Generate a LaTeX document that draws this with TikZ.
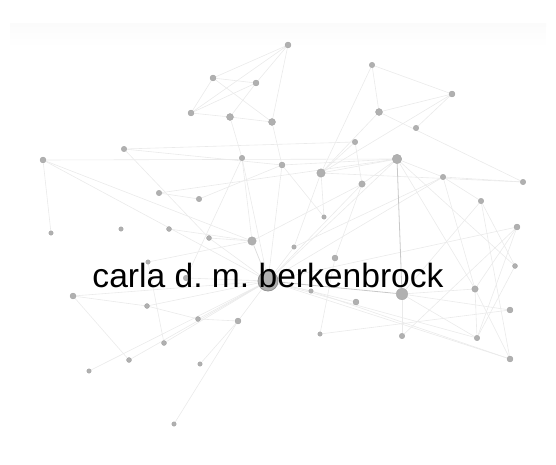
\documentclass[tikz,border=0pt]{standalone}
\usepackage{fontspec}
\setmainfont{Liberation Sans}
\usetikzlibrary{backgrounds}
\definecolor{edgec}{HTML}{EAEAEA}
\definecolor{edgem}{HTML}{DCDCDC}
\definecolor{edged}{HTML}{C8C8C8}
\definecolor{dotc}{HTML}{B0B0B0}
\definecolor{dotb}{HTML}{A0A0A0}
\tikzset{
  dot/.style={circle, fill=dotc, draw=dotb, line width=0.3pt, inner sep=0pt, minimum size=#1},
  dot/.default=5pt,
  edge/.style={draw=edgec, line width=0.6pt},
  edgeM/.style={draw=edgem, line width=0.7pt},
  edgeD/.style={draw=edged, line width=0.8pt},
  lbl/.style={font=\fontsize{33.6}{36}\selectfont\frenchspacing, text=black, inner sep=0pt, anchor=base}
}
\begin{document}
\begin{tikzpicture}[x=1pt,y=-1pt]
\useasboundingbox (0,0) rectangle (556,465);
% nodes
\node[dot=6pt] (xa) at (288,45) {};
\node[dot=6pt] (xb) at (213,78) {};
\node[dot=6pt] (xc) at (256,83) {};
\node[dot=6pt] (xd) at (191,113) {};
\node[dot=7pt] (xe) at (230,117) {};
\node[dot=7pt] (xf) at (272,122) {};
\node[dot=5.5pt] (xg) at (372,65) {};
\node[dot=6pt] (xh) at (452,94) {};
\node[dot=7pt] (xi) at (379,112) {};
\node[dot=5.5pt] (xj) at (416,128) {};
\node[dot=5.5pt] (xk) at (355,142) {};
\node[dot=5.5pt] (xl) at (124,149) {};
\node[dot=5.5pt] (xm) at (242,158) {};
\node[dot=6pt] (xn) at (43,160) {};
\node[dot=6pt] (xo) at (282,165) {};
\node[dot=9.5pt] (xp) at (397,159) {};
\node[dot=8.5pt] (xq) at (321,173) {};
\node[dot=6.5pt] (xr) at (362,184) {};
\node[dot=5.5pt] (xs) at (443,177) {};
\node[dot=5.5pt] (xt) at (523,182) {};
\node[dot=5.5pt] (xu) at (481,201) {};
\node[dot=5.5pt] (xv) at (159,193) {};
\node[dot=5.5pt] (xw) at (199,199) {};
\node[dot=4.5pt] (xx) at (324,217) {};
\node[dot=6pt] (xy) at (517,227) {};
\node[dot=4.5pt] (xz) at (51,233) {};
\node[dot=4.5pt] (yaa) at (121,229) {};
\node[dot=5pt] (yab) at (169,229) {};
\node[dot=5pt] (yac) at (209,238) {};
\node[dot=8.5pt] (yad) at (252,241) {};
\node[dot=4.5pt] (yae) at (294,247) {};
\node[dot=6pt] (yaf) at (335,258) {};
\node[dot=5pt] (yag) at (515,266) {};
\node[dot=4.5pt] (yah) at (148,262) {};
\node[dot=5.5pt] (yai) at (186,278) {};
\node[dot=4.5pt] (yaj) at (311,291) {};
\node[dot=6.5pt] (yak) at (475,289) {};
\node[dot=11.5pt, draw=gray!75] (yal) at (402,294) {};
\node[dot=6pt] (yam) at (73,296) {};
\node[dot=6pt] (yan) at (356,302) {};
\node[dot=5pt] (yao) at (147,306) {};
\node[dot=6pt] (yap) at (510,310) {};
\node[dot=5pt] (yaq) at (198,319) {};
\node[dot=6pt] (yar) at (238,321) {};
\node[dot=4.5pt] (yas) at (320,334) {};
\node[dot=5.5pt] (yat) at (402,336) {};
\node[dot=5.5pt] (yau) at (477,338) {};
\node[dot=5pt] (yav) at (164,343) {};
\node[dot=5pt] (yaw) at (129,360) {};
\node[dot=6pt] (yax) at (510,359) {};
\node[dot=4.5pt] (yay) at (200,364) {};
\node[dot=4.5pt] (yaz) at (89,371) {};
\node[dot=4.5pt] (yba) at (174,424) {};
\node[dot=20pt, draw=gray!85, line width=0.8pt] (main) at (268,281) {};
% edges
\begin{scope}[on background layer]
\shade[top color=gray!3, bottom color=white] (10,24) rectangle (546,48);
\foreach \u/\v in {xa/xb,xa/xd,xa/xc,xa/xf,xb/xc,xb/xd,xb/xf,xc/xd,xc/xe,xd/xe,xe/xf,xe/xm,xf/xo,
  xg/xi,xg/xh,xg/xq,xh/xi,xh/xj,xh/xq,xi/xt,xi/xq,xl/xk,xl/xo,xo/xp,xp/xs,xq/xt,xs/xt,
  xp/xq,xp/xr,xp/yag,xp/yak,xp/main,xs/xu,xs/main,xs/yak,xu/yal,xu/yag,xu/yax,
  xy/main,xy/yak,xy/yat,xy/yau,xr/yad,xr/main,xr/xk,
  yal/yak,yal/yap,yal/yau,yal/yat,yak/yax,yag/yau,yas/yap,yau/yak,yax/main,yax/yaj,yau/main,
  yan/main,yas/yaf,yam/yao,yam/main,yam/yaw,yao/main,yao/yaq,yaq/yar,yav/yah,yaw/main,
  yaz/main,yaq/main,yar/main,yba/yar,yay/yar,yah/yad,yai/main,
  xn/xz,xn/xp,xn/yad,xn/main,xl/yac,xm/yad,xm/main,xm/yai,xv/xw,xv/xp,xw/xo,yab/yad,yac/yad,yac/main,
  xo/main,xo/xx,xq/xx,xq/yae,xq/xk,yae/xs,yae/main,main/yaj,yaf/xr,yav/main}
  \draw[edge] (\u) -- (\v);
\draw[edgeM] (yad) -- (main);
\draw[edgeD] (xp) -- (yal);
\draw[edgeD] (main) -- (yal);
\end{scope}
% label
\node[lbl] (name) at (268,287) {carla d. m. berkenbrock};
\end{tikzpicture}
\end{document}
